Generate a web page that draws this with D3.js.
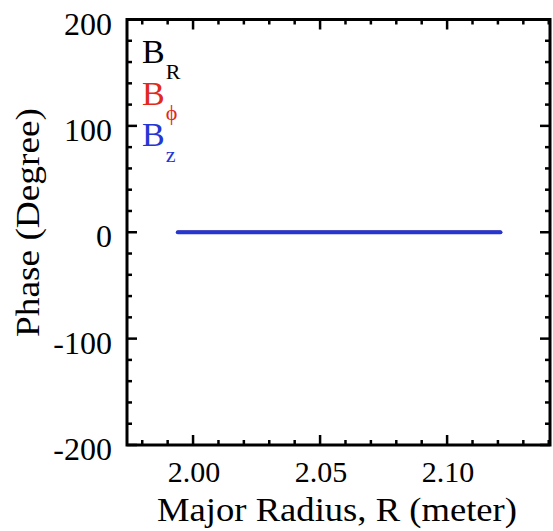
<!DOCTYPE html>
<html><head><meta charset="utf-8">
<script src="https://cdn.jsdelivr.net/npm/d3@7"></script>
<style>body{margin:0;background:#fff}svg{display:block}text{font-family:"Liberation Serif","Times New Roman",serif}</style>
</head><body>
<script>
// Data
const radius = [1.994, 2.121];
const phaseBR = [0, 0];
const phaseBphi = [0, 0];
const phaseBz = [0, 0];
const xTicks = [2.00, 2.05, 2.10];
const xTickLabels = ["2.00", "2.05", "2.10"];
const yTicks = [-200, -100, 0, 100, 200];
const yTickLabels = ["-200", "-100", "0", "100", "200"];
const seriesNames = [["B","R"],["B","\u03d5"],["B","z"]];
const seriesColors = ["#000000", "#e02a1a", "#2436d4"];

const W = 553, H = 531;
const m = {l:127, r:550, t:19.5, b:445};
const svg = d3.select("body").append("svg").attr("width", W).attr("height", H);
const x = d3.scaleLinear().domain([1.974, 2.1405]).range([m.l, m.r]);
const y = d3.scaleLinear().domain([-200, 200]).range([m.b, m.t]);

const xMinor = d3.range(1.98, 2.141, 0.01).filter(v => !xTicks.some(t => Math.abs(t - v) < 1e-6));
const yMinor = d3.range(-180, 200, 20).filter(v => v % 100 !== 0);

function tickLines(g, vals, isX, side, len) {
  vals.forEach(v => {
    if (isX) {
      const px = x(v);
      const y0 = side === "bottom" ? m.b : m.t;
      const dir = side === "bottom" ? -1 : 1;
      g.append("line").attr("x1", px).attr("x2", px).attr("y1", y0).attr("y2", y0 + dir*len)
        .attr("stroke", "#000").attr("stroke-width", 2.5);
    } else {
      const py = y(v);
      const x0 = side === "left" ? m.l : m.r;
      const dir = side === "left" ? 1 : -1;
      g.append("line").attr("x1", x0).attr("x2", x0 + dir*len).attr("y1", py).attr("y2", py)
        .attr("stroke", "#000").attr("stroke-width", 2.5);
    }
  });
}
const tg = svg.append("g");
tickLines(tg, xTicks, true, "bottom", 10);
tickLines(tg, xMinor, true, "bottom", 5);
tickLines(tg, xTicks, true, "top", 10);
tickLines(tg, xMinor, true, "top", 5);
tickLines(tg, yTicks, false, "left", 10);
tickLines(tg, yMinor, false, "left", 5);
tickLines(tg, yTicks, false, "right", 10);
tickLines(tg, yMinor, false, "right", 5);

// frame
svg.append("rect").attr("x", m.l).attr("y", m.t).attr("width", m.r - m.l).attr("height", m.b - m.t)
  .attr("fill", "none").attr("stroke", "#000").attr("stroke-width", 3);

// tick labels
svg.selectAll(".xl").data(xTicks).enter().append("text")
  .attr("x", d => x(d) + 1).attr("y", 481.5).attr("text-anchor", "middle")
  .attr("font-size", 30).text((d,i) => xTickLabels[i]);
svg.selectAll(".yl").data(yTicks).enter().append("text")
  .attr("x", 112).attr("y", d => y(d) + 15).attr("text-anchor", "end")
  .attr("font-size", 32).text((d,i) => yTickLabels[i]);

// titles
svg.append("text").attr("x", 157).attr("y", 521).attr("text-anchor", "start")
  .attr("font-size", 33).attr("textLength", 360).attr("lengthAdjust", "spacingAndGlyphs")
  .text("Major Radius, R (meter)");
svg.append("text").attr("transform", "translate(39,337) rotate(-90)").attr("text-anchor", "start")
  .attr("font-size", 33).attr("textLength", 229).attr("lengthAdjust", "spacingAndGlyphs")
  .text("Phase (Degree)");

// lines
const line = d3.line().x((d,i) => x(radius[i])).y(d => y(d));
[phaseBR, phaseBphi, phaseBz].forEach((s, i) => {
  svg.append("path").attr("d", line(s)).attr("fill", "none")
    .attr("stroke", seriesColors[i]).attr("stroke-width", i === 2 ? 4 : 3)
    .attr("stroke-linecap", "round");
});

// legend
const leg = svg.append("g");
seriesNames.forEach((nm, i) => {
  const t = leg.append("text").attr("x", 142).attr("y", 63 + i*41.5).attr("fill", seriesColors[i])
    .attr("font-size", 34);
  t.append("tspan").text(nm[0]);
  t.append("tspan").attr("dy", i === 1 ? 15 : 16).attr("dx", 1).attr("font-size", 22).text(nm[1]);
});
</script>
</body></html>
